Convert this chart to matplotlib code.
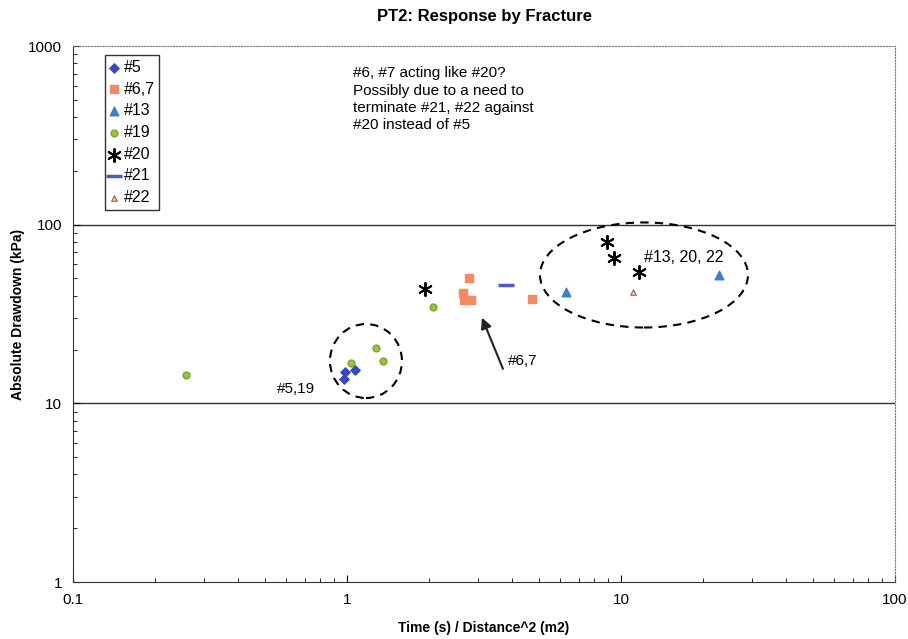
import matplotlib
matplotlib.use('Agg')
import matplotlib.pyplot as plt
from matplotlib.patches import Ellipse
from matplotlib.ticker import LogLocator, NullFormatter, FixedLocator

plt.rcParams['font.family'] = ['Liberation Sans', 'DejaVu Sans']

# Data (x = time/distance^2, y = drawdown kPa)
x_5 = [0.975, 0.983, 1.07]
y_5 = [13.6, 14.9, 15.3]
x_67 = [2.78, 2.65, 2.67, 2.83, 4.73]
y_67 = [50.2, 41.4, 37.9, 37.9, 38.3]
x_13 = [6.32, 22.7]
y_13 = [41.9, 52.3]
x_19 = [0.259, 1.034, 1.275, 1.353, 2.06]
y_19 = [14.4, 16.8, 20.3, 17.2, 34.5]
x_20 = [1.925, 8.87, 9.4, 11.6]
y_20 = [43.6, 80.0, 65.0, 54.3]
x_21 = [3.80]
y_21 = [45.9]
x_22 = [11.1]
y_22 = [41.9]

note = "#6, #7 acting like #20?\nPossibly due to a need to\nterminate #21, #22 against\n#20 instead of #5"

fig = plt.figure(figsize=(9.08, 6.39), dpi=100)
ax = fig.add_axes([0.0804, 0.0892, 0.9053, 0.8388])

ax.set_xscale('log')
ax.set_yscale('log')
ax.set_xlim(0.1, 100)
ax.set_ylim(1, 1000)

# reference lines
for yv in [10, 100]:
    ax.axhline(yv, color='#333333', lw=1.0, zorder=1)

ax.scatter(x_5, y_5, marker='D', s=22, color='#3548c0', label='#5', zorder=3)
ax.scatter(x_67, y_67, marker='s', s=30, color='#f58a5e', label='#6,7', zorder=3)
ax.scatter(x_13, y_13, marker='^', s=38, color='#3a7fd0', label='#13', zorder=3)
ax.scatter(x_19, y_19, marker='o', s=24, color='#9cc43a', edgecolor='#7aa52a', label='#19', zorder=3)
ax.scatter(x_20, y_20, marker=(6, 2, 0), s=90, color='black', linewidths=1.4, label='#20', zorder=3)
ax.scatter(x_21, y_21, marker='_', s=120, color='#4a5bd0', linewidths=2.5, label='#21', zorder=3)
ax.scatter(x_22, y_22, marker='^', s=16, facecolor='#f0d0b0', edgecolor='#a0604a', linewidths=0.8, label='#22', zorder=3)

# dashed groupings
ax.add_patch(Ellipse((0.3564, 0.4123), 0.0876, 0.138, transform=ax.transAxes,
                     fill=False, ls=(0, (4, 3)), lw=1.5, color='black'))
ax.add_patch(Ellipse((0.6946, 0.5728), 0.253, 0.196, transform=ax.transAxes,
                     fill=False, ls=(0, (4, 3)), lw=1.5, color='black'))

ax.annotate('', xy=(3.08, 31.2), xytext=(3.74, 15.1),
            arrowprops=dict(arrowstyle='-|>', color='#222222', lw=1.5, mutation_scale=16))
ax.text(3.87, 17.2, '#6,7', fontsize=11, va='center', ha='left')
ax.text(0.555, 12.1, '#5,19', fontsize=11, va='center', ha='left')
ax.text(12.1, 65.9, '#13, 20, 22', fontsize=11.5, va='center', ha='left')
ax.text(0.341, 0.962, note, transform=ax.transAxes, fontsize=11, va='top', ha='left',
        linespacing=1.3)

# axes styling
ax.spines['top'].set_linestyle(':')
ax.spines['top'].set_color('#777777')
ax.spines['right'].set_linestyle(':')
ax.spines['right'].set_color('#777777')
ax.spines['left'].set_color('#333333')
ax.spines['bottom'].set_color('#333333')

ax.xaxis.set_major_locator(FixedLocator([0.1, 1, 10, 100]))
ax.set_xticklabels(['0.1', '1', '10', '100'])
ax.yaxis.set_major_locator(FixedLocator([1, 10, 100, 1000]))
ax.set_yticklabels(['1', '10', '100', '1000'])
ax.xaxis.set_minor_locator(LogLocator(base=10, subs=range(2, 10)))
ax.yaxis.set_minor_locator(LogLocator(base=10, subs=range(2, 10)))
ax.xaxis.set_minor_formatter(NullFormatter())
ax.yaxis.set_minor_formatter(NullFormatter())
ax.tick_params(which='major', direction='in', length=5, labelsize=11, pad=8, top=False, right=False)
ax.tick_params(which='minor', direction='in', length=3, top=False, right=False)

ax.set_xlabel('Time (s) / Distance^2 (m2)', fontsize=10, fontweight='bold', labelpad=10)
ax.set_ylabel('Absolute Drawdown (kPa)', fontsize=10, fontweight='bold', labelpad=2)
ax.set_title('PT2: Response by Fracture', fontsize=12, fontweight='bold', pad=18)

leg = ax.legend(loc='upper left', bbox_to_anchor=(0.039, 0.983), fontsize=11.5,
                frameon=True, fancybox=False, edgecolor='black', handlelength=0.5,
                handletextpad=0.35, labelspacing=0.42, borderpad=0.3, borderaxespad=0,
                scatterpoints=1)
leg.get_frame().set_linewidth(1.0)

plt.savefig('out.png', dpi=100)
